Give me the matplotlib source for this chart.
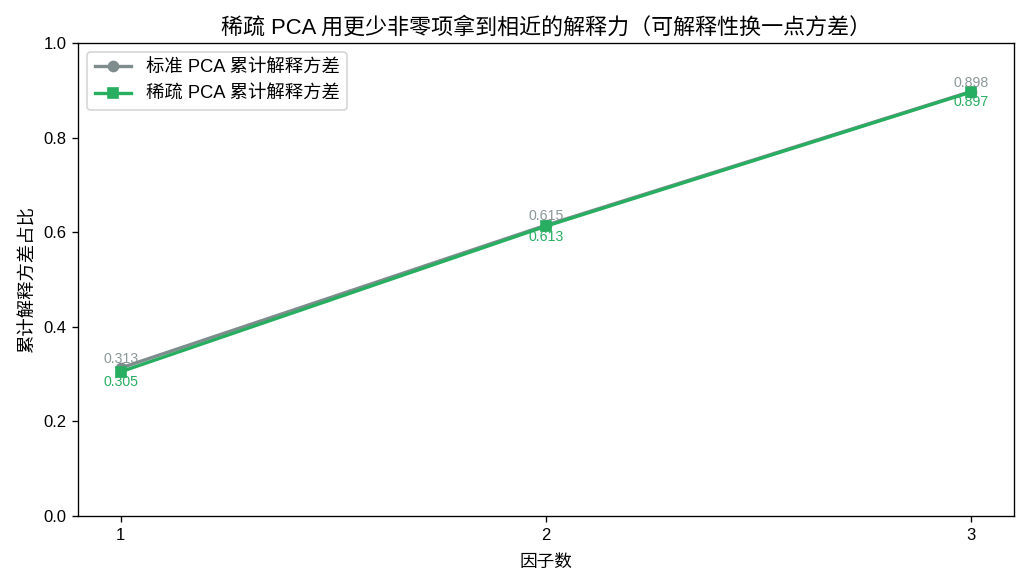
import numpy as np
import matplotlib
matplotlib.use("Agg")
import matplotlib.pyplot as plt

plt.rcParams["font.family"] = ["Liberation Sans", "Noto Sans CJK SC", "DejaVu Sans"]

n_factors = [1, 2, 3]
std_cum = [0.313, 0.615, 0.898]
sparse_cum = [0.305, 0.613, 0.897]

gray = "#7f8c8d"
green = "#27ae60"

fig, ax = plt.subplots(figsize=(1027 / 120, 585 / 120), dpi=120)
ax.plot(n_factors, std_cum, marker="o", color=gray, lw=2, label="标准 PCA 累计解释方差")
ax.plot(n_factors, sparse_cum, marker="s", color=green, lw=2, label="稀疏 PCA 累计解释方差")

# value labels: standard above, sparse below
for x, v in zip(n_factors, std_cum):
    ax.annotate(f"{v:.3f}", (x, v), textcoords="offset points", xytext=(0, 3),
                ha="center", va="baseline", fontsize=8.5, color=gray, alpha=0.9)
for x, v in zip(n_factors, sparse_cum):
    ax.annotate(f"{v:.3f}", (x, v), textcoords="offset points", xytext=(0, -2),
                ha="center", va="top", fontsize=8.5, color=green)

ax.set_ylim(0, 1.0)
ax.set_xticks(n_factors)
ax.set_xlabel("因子数", fontsize=10.6, labelpad=7)
ax.set_ylabel("累计解释方差占比", fontsize=11)
ax.set_title("稀疏 PCA 用更少非零项拿到相近的解释力（可解释性换一点方差）", fontsize=13.2)
ax.tick_params(labelsize=10)
ax.legend(loc="upper left", fontsize=11)

fig.subplots_adjust(left=0.076, right=0.987, top=0.926, bottom=0.118)
fig.savefig("out.png")
